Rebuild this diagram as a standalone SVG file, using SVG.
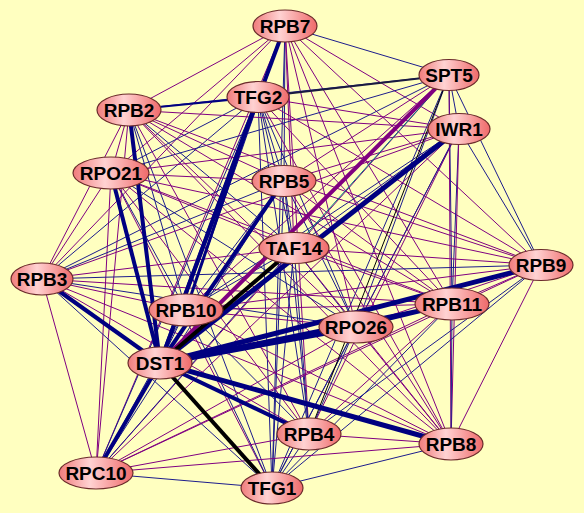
<svg xmlns="http://www.w3.org/2000/svg" width="584" height="513" viewBox="0 0 584 513">
<defs>
<linearGradient id="ng" x1="0" y1="0" x2="1" y2="0">
<stop offset="0" stop-color="#f07c7c"/>
<stop offset="0.42" stop-color="#ffd2d2"/>
<stop offset="1" stop-color="#ef6a6a"/>
</linearGradient>
<style>
.b{stroke:#1c1c8c;stroke-width:1;fill:none}
.p{stroke:#800080;stroke-width:1;fill:none}
.tb{stroke:#000080;fill:none}
.tk{stroke:#000000;fill:none}
.n ellipse{fill:url(#ng);stroke:#6b2b2b;stroke-width:1.2}
.n text{font-family:"Liberation Sans",Arial,sans-serif;font-weight:bold;font-size:19px;text-anchor:middle;fill:#000}
</style>
</defs>
<rect width="584" height="513" fill="#ffffc0"/>
<g id="edges">
<line class="b" x1="285" y1="26" x2="449" y2="75"/>
<line class="p" x1="285" y1="26" x2="129" y2="110"/>
<line class="p" x1="285" y1="26" x2="459" y2="129"/>
<line class="p" x1="285" y1="26" x2="111" y2="173"/>
<line class="b" x1="285" y1="26" x2="284" y2="181"/>
<line class="p" x1="285" y1="26" x2="294" y2="248"/>
<line class="p" x1="285" y1="26" x2="541" y2="265"/>
<line class="p" x1="285" y1="26" x2="42" y2="279"/>
<line class="b" x1="285" y1="26" x2="186" y2="310"/>
<line class="p" x1="285" y1="26" x2="452" y2="304"/>
<line class="p" x1="285" y1="26" x2="356" y2="327"/>
<line class="p" x1="285" y1="26" x2="309" y2="434"/>
<line class="p" x1="285" y1="26" x2="451" y2="444"/>
<line class="p" x1="285" y1="26" x2="96" y2="473"/>
<line class="b" x1="285" y1="26" x2="272" y2="488"/>
<line class="b" x1="449" y1="75" x2="129" y2="110"/>
<line class="b" x1="449" y1="75" x2="459" y2="129"/>
<line class="b" x1="449" y1="75" x2="111" y2="173"/>
<line class="p" x1="449" y1="75" x2="284" y2="181"/>
<line class="b" x1="449" y1="75" x2="541" y2="265"/>
<line class="b" x1="449" y1="75" x2="42" y2="279"/>
<line class="p" x1="449" y1="75" x2="186" y2="310"/>
<line class="b" x1="449" y1="75" x2="452" y2="304"/>
<line class="b" x1="449" y1="75" x2="356" y2="327"/>
<line class="p" x1="449" y1="75" x2="451" y2="444"/>
<line class="p" x1="449" y1="75" x2="96" y2="473"/>
<line class="b" x1="449" y1="75" x2="272" y2="488"/>
<line class="p" x1="258" y1="97" x2="459" y2="129"/>
<line class="b" x1="258" y1="97" x2="111" y2="173"/>
<line class="b" x1="258" y1="97" x2="284" y2="181"/>
<line class="b" x1="258" y1="97" x2="294" y2="248"/>
<line class="p" x1="258" y1="97" x2="541" y2="265"/>
<line class="b" x1="258" y1="97" x2="42" y2="279"/>
<line class="p" x1="258" y1="97" x2="452" y2="304"/>
<line class="b" x1="258" y1="97" x2="356" y2="327"/>
<line class="b" x1="258" y1="97" x2="309" y2="434"/>
<line class="p" x1="258" y1="97" x2="451" y2="444"/>
<line class="b" x1="258" y1="97" x2="96" y2="473"/>
<line class="b" x1="258" y1="97" x2="272" y2="488"/>
<line class="p" x1="129" y1="110" x2="459" y2="129"/>
<line class="p" x1="129" y1="110" x2="111" y2="173"/>
<line class="p" x1="129" y1="110" x2="284" y2="181"/>
<line class="b" x1="129" y1="110" x2="294" y2="248"/>
<line class="p" x1="129" y1="110" x2="541" y2="265"/>
<line class="p" x1="129" y1="110" x2="42" y2="279"/>
<line class="b" x1="129" y1="110" x2="186" y2="310"/>
<line class="p" x1="129" y1="110" x2="452" y2="304"/>
<line class="p" x1="129" y1="110" x2="356" y2="327"/>
<line class="p" x1="129" y1="110" x2="309" y2="434"/>
<line class="p" x1="129" y1="110" x2="451" y2="444"/>
<line class="p" x1="129" y1="110" x2="96" y2="473"/>
<line class="b" x1="129" y1="110" x2="272" y2="488"/>
<line class="p" x1="459" y1="129" x2="111" y2="173"/>
<line class="p" x1="459" y1="129" x2="284" y2="181"/>
<line class="b" x1="459" y1="129" x2="294" y2="248"/>
<line class="b" x1="459" y1="129" x2="541" y2="265"/>
<line class="p" x1="459" y1="129" x2="42" y2="279"/>
<line class="b" x1="459" y1="129" x2="186" y2="310"/>
<line class="b" x1="459" y1="129" x2="452" y2="304"/>
<line class="p" x1="459" y1="129" x2="356" y2="327"/>
<line class="p" x1="459" y1="129" x2="309" y2="434"/>
<line class="p" x1="459" y1="129" x2="451" y2="444"/>
<line class="p" x1="459" y1="129" x2="96" y2="473"/>
<line class="b" x1="459" y1="129" x2="272" y2="488"/>
<line class="p" x1="111" y1="173" x2="284" y2="181"/>
<line class="p" x1="111" y1="173" x2="294" y2="248"/>
<line class="p" x1="111" y1="173" x2="541" y2="265"/>
<line class="p" x1="111" y1="173" x2="42" y2="279"/>
<line class="b" x1="111" y1="173" x2="186" y2="310"/>
<line class="p" x1="111" y1="173" x2="452" y2="304"/>
<line class="b" x1="111" y1="173" x2="356" y2="327"/>
<line class="p" x1="111" y1="173" x2="309" y2="434"/>
<line class="p" x1="111" y1="173" x2="451" y2="444"/>
<line class="p" x1="111" y1="173" x2="96" y2="473"/>
<line class="p" x1="111" y1="173" x2="272" y2="488"/>
<line class="b" x1="284" y1="181" x2="294" y2="248"/>
<line class="p" x1="284" y1="181" x2="541" y2="265"/>
<line class="b" x1="284" y1="181" x2="42" y2="279"/>
<line class="b" x1="284" y1="181" x2="186" y2="310"/>
<line class="p" x1="284" y1="181" x2="452" y2="304"/>
<line class="b" x1="284" y1="181" x2="356" y2="327"/>
<line class="b" x1="284" y1="181" x2="309" y2="434"/>
<line class="p" x1="284" y1="181" x2="451" y2="444"/>
<line class="b" x1="284" y1="181" x2="96" y2="473"/>
<line class="b" x1="284" y1="181" x2="272" y2="488"/>
<line class="p" x1="294" y1="248" x2="541" y2="265"/>
<line class="p" x1="294" y1="248" x2="42" y2="279"/>
<line class="b" x1="294" y1="248" x2="186" y2="310"/>
<line class="p" x1="294" y1="248" x2="452" y2="304"/>
<line class="b" x1="294" y1="248" x2="356" y2="327"/>
<line class="b" x1="294" y1="248" x2="309" y2="434"/>
<line class="p" x1="294" y1="248" x2="451" y2="444"/>
<line class="b" x1="294" y1="248" x2="96" y2="473"/>
<line class="b" x1="294" y1="248" x2="272" y2="488"/>
<line class="b" x1="541" y1="265" x2="42" y2="279"/>
<line class="p" x1="541" y1="265" x2="186" y2="310"/>
<line class="p" x1="541" y1="265" x2="452" y2="304"/>
<line class="p" x1="541" y1="265" x2="356" y2="327"/>
<line class="b" x1="541" y1="265" x2="309" y2="434"/>
<line class="p" x1="541" y1="265" x2="451" y2="444"/>
<line class="p" x1="541" y1="265" x2="96" y2="473"/>
<line class="b" x1="541" y1="265" x2="272" y2="488"/>
<line class="p" x1="42" y1="279" x2="186" y2="310"/>
<line class="p" x1="42" y1="279" x2="452" y2="304"/>
<line class="b" x1="42" y1="279" x2="356" y2="327"/>
<line class="p" x1="42" y1="279" x2="309" y2="434"/>
<line class="p" x1="42" y1="279" x2="451" y2="444"/>
<line class="p" x1="42" y1="279" x2="96" y2="473"/>
<line class="b" x1="42" y1="279" x2="272" y2="488"/>
<line class="p" x1="186" y1="310" x2="452" y2="304"/>
<line class="p" x1="186" y1="310" x2="356" y2="327"/>
<line class="b" x1="186" y1="310" x2="160" y2="363"/>
<line class="b" x1="186" y1="310" x2="309" y2="434"/>
<line class="p" x1="186" y1="310" x2="451" y2="444"/>
<line class="b" x1="186" y1="310" x2="96" y2="473"/>
<line class="b" x1="186" y1="310" x2="272" y2="488"/>
<line class="p" x1="452" y1="304" x2="309" y2="434"/>
<line class="b" x1="452" y1="304" x2="451" y2="444"/>
<line class="p" x1="452" y1="304" x2="96" y2="473"/>
<line class="b" x1="452" y1="304" x2="272" y2="488"/>
<line class="b" x1="356" y1="327" x2="309" y2="434"/>
<line class="p" x1="356" y1="327" x2="451" y2="444"/>
<line class="p" x1="356" y1="327" x2="96" y2="473"/>
<line class="b" x1="356" y1="327" x2="272" y2="488"/>
<line class="p" x1="309" y1="434" x2="451" y2="444"/>
<line class="p" x1="309" y1="434" x2="96" y2="473"/>
<line class="b" x1="309" y1="434" x2="272" y2="488"/>
<line class="p" x1="451" y1="444" x2="96" y2="473"/>
<line class="b" x1="451" y1="444" x2="272" y2="488"/>
<line class="b" x1="96" y1="473" x2="272" y2="488"/>
<line stroke="#008080" stroke-width="1" x1="449" y1="75" x2="294" y2="248"/>
<line class="tk" stroke-width="1" x1="449" y1="75" x2="309" y2="434"/>
<line stroke="#1a1a40" stroke-width="2" x1="449" y1="75" x2="258" y2="97"/>
<line class="tb" stroke-width="2" x1="129" y1="110" x2="258" y2="97"/>
<line class="tb" stroke-width="3" x1="258" y1="97" x2="186" y2="310"/>
<line class="tb" stroke-width="3" x1="452" y1="304" x2="356" y2="327"/>
<line class="tb" stroke-width="4" x1="285" y1="26" x2="160" y2="363"/>
<line class="tb" stroke-width="4" x1="258" y1="97" x2="160" y2="363"/>
<line class="tb" stroke-width="4" x1="129" y1="110" x2="160" y2="363"/>
<line class="tb" stroke-width="4" x1="111" y1="173" x2="160" y2="363"/>
<line class="tb" stroke-width="4" x1="284" y1="181" x2="160" y2="363"/>
<line class="tb" stroke-width="5" x1="459" y1="129" x2="160" y2="363"/>
<line stroke="#800080" stroke-width="4" x1="449" y1="75" x2="160" y2="363"/>
<line class="tk" stroke-width="4" x1="294" y1="248" x2="160" y2="363"/>
<line class="tb" stroke-width="5" x1="541" y1="265" x2="160" y2="363"/>
<line class="tb" stroke-width="4" x1="42" y1="279" x2="160" y2="363"/>
<line class="tb" stroke-width="4" x1="452" y1="304" x2="160" y2="363"/>
<line class="tb" stroke-width="6" x1="356" y1="327" x2="160" y2="363"/>
<line class="tb" stroke-width="4" x1="309" y1="434" x2="160" y2="363"/>
<line class="tb" stroke-width="5" x1="451" y1="444" x2="160" y2="363"/>
<line class="tb" stroke-width="4" x1="96" y1="473" x2="160" y2="363"/>
<line class="tk" stroke-width="4" x1="272" y1="488" x2="160" y2="363"/>
</g>
<g id="node-RPB7" class="n"><ellipse cx="285" cy="26" rx="32" ry="16"/><text x="285" y="33">RPB7</text></g>
<g id="node-SPT5" class="n"><ellipse cx="449" cy="75" rx="30" ry="15.5"/><text x="449" y="82">SPT5</text></g>
<g id="node-TFG2" class="n"><ellipse cx="258" cy="97" rx="31" ry="15.5"/><text x="258" y="104">TFG2</text></g>
<g id="node-RPB2" class="n"><ellipse cx="129" cy="110" rx="32" ry="16"/><text x="129" y="117">RPB2</text></g>
<g id="node-IWR1" class="n"><ellipse cx="459" cy="129" rx="31" ry="15.5"/><text x="459" y="136">IWR1</text></g>
<g id="node-RPO21" class="n"><ellipse cx="111" cy="173" rx="38" ry="16"/><text x="111" y="180">RPO21</text></g>
<g id="node-RPB5" class="n"><ellipse cx="284" cy="181" rx="32" ry="15.5"/><text x="284" y="188">RPB5</text></g>
<g id="node-TAF14" class="n"><ellipse cx="294" cy="248" rx="35" ry="15.5"/><text x="294" y="255">TAF14</text></g>
<g id="node-RPB9" class="n"><ellipse cx="541" cy="265" rx="32" ry="15.5"/><text x="541" y="272">RPB9</text></g>
<g id="node-RPB3" class="n"><ellipse cx="42" cy="279" rx="31" ry="16"/><text x="42" y="286">RPB3</text></g>
<g id="node-RPB10" class="n"><ellipse cx="186" cy="310" rx="37" ry="16"/><text x="186" y="317">RPB10</text></g>
<g id="node-RPB11" class="n"><ellipse cx="452" cy="304" rx="37" ry="16"/><text x="452" y="311">RPB11</text></g>
<g id="node-RPO26" class="n"><ellipse cx="356" cy="327" rx="37" ry="16"/><text x="356" y="334">RPO26</text></g>
<g id="node-DST1" class="n"><ellipse cx="160" cy="363" rx="32" ry="16"/><text x="160" y="370">DST1</text></g>
<g id="node-RPB4" class="n"><ellipse cx="309" cy="434" rx="32" ry="16"/><text x="309" y="441">RPB4</text></g>
<g id="node-RPB8" class="n"><ellipse cx="451" cy="444" rx="32" ry="16"/><text x="451" y="451">RPB8</text></g>
<g id="node-RPC10" class="n"><ellipse cx="96" cy="473" rx="37" ry="16"/><text x="96" y="480">RPC10</text></g>
<g id="node-TFG1" class="n"><ellipse cx="272" cy="488" rx="31" ry="16"/><text x="272" y="495">TFG1</text></g>
</svg>
